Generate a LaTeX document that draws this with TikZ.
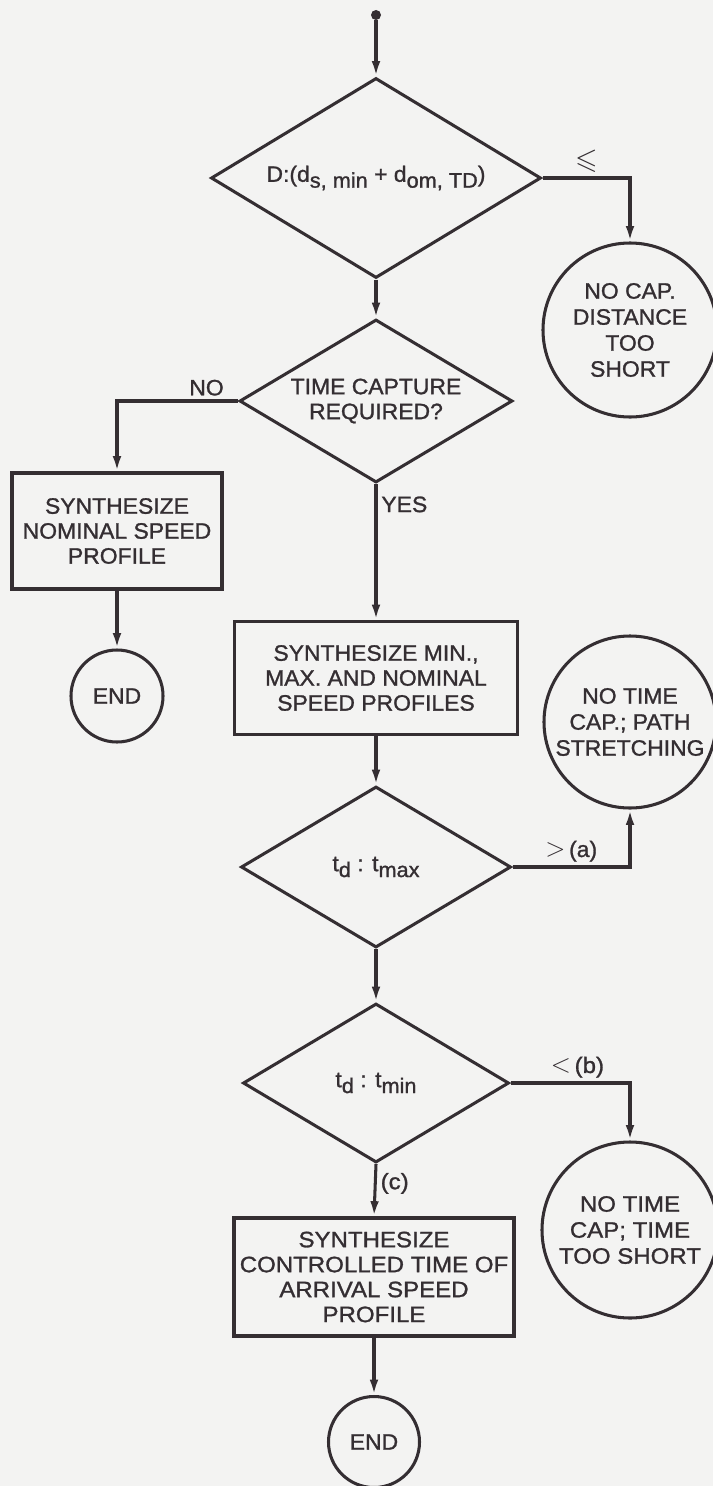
\documentclass[tikz,border=0pt]{standalone}
\usepackage{fontspec}
\usepackage{amssymb}
\setmainfont[FakeStretch=1.03, FakeBold=1.2]{Liberation Sans}
\newfontfamily\widefont[FakeStretch=1.08, FakeBold=1.2]{Liberation Sans}
\usetikzlibrary{shapes.geometric,arrows.meta}
\definecolor{ink}{RGB}{52,46,50}
\definecolor{paper}{RGB}{243,243,242}
\newcommand{\lowsub}[1]{\raisebox{-0.5ex}{\fontsize{18}{18}\selectfont#1}}
\tikzset{
  every node/.style={font=\fontsize{19}{21.3}\selectfont, text=ink},
  line/.style={draw=ink, line width=2.6pt},
  arrow/.style={line, -{Latex[length=4.6mm,width=2.6mm]}},
  decision/.style={diamond, aspect=1.65, draw=ink, line width=2.6pt, inner sep=0pt, align=center},
  process/.style={rectangle, draw=ink, line width=2.6pt, inner sep=0pt, align=center},
  terminal/.style={circle, draw=ink, line width=2.6pt, inner sep=0pt, align=center,
    font=\fontsize{19}{22.2}\selectfont},
}
\begin{document}
\begin{tikzpicture}[x=0.03cm, y=-0.03cm]
\fill[paper] (0,0) rectangle (713,1486);
\useasboundingbox (0,0) rectangle (713,1486);
\node[circle, fill=ink, inner sep=0pt, minimum size=0.3cm] (S) at (376,15) {};
\node[decision, minimum width=9.9cm, minimum height=6cm] (D_1) at (376,178) {D:(d\lowsub{s, min} + d\lowsub{om, TD})};
\node[terminal, minimum size=5.22cm] (C_1) at (630,330) {NO CAP.\\DISTANCE\\TOO\\SHORT};
\draw[arrow] (S) -- (D_1.north);
\draw[arrow] (D_1.east) -| (C_1.north) node[pos=0.25, above] (L_1) {\scalebox{1.3}{$\leqslant$}};
\node[decision, minimum width=8.19cm, minimum height=4.89cm] (D_2) at (376,401) {TIME CAPTURE\\REQUIRED?};
\draw[arrow] (D_1.south) -- (D_2.north);
\node[process, minimum width=6.3cm, minimum height=3.48cm] (B_1) at (117,531) {SYNTHESIZE\\NOMINAL SPEED\\PROFILE};
\draw[arrow] (D_2.west) -| (B_1.north) node[pos=0.13, above] (L_2) {NO};
\node[terminal, minimum size=2.76cm] (E_1) at (117,696) {END};
\draw[arrow] (B_1.south) -- (E_1.north);
\node[process, minimum width=8.49cm, minimum height=3.39cm] (B_2) at (376,678) {SYNTHESIZE MIN.,\\MAX. AND NOMINAL\\SPEED PROFILES};
\draw[arrow] (D_2.south) -- (B_2.north) node[pos=0.15, right] (L_3) {YES};
\node[terminal, minimum size=5.16cm] (C_2) at (630,722) {NO TIME\\CAP.; PATH\\STRETCHING};
\node[decision, minimum width=8.1cm, minimum height=4.83cm] (D_3) at (376,867) {t\lowsub{d} : t\lowsub{max}};
\draw[arrow] (B_2.south) -- (D_3.north);
\draw[arrow] (D_3.east) -| (C_2.south) node[pos=0.25, above] (L_4) {\scalebox{1.3}{$>$}\,(a)};
\node[decision, minimum width=7.98cm, minimum height=4.77cm] (D_4) at (376,1083) {t\lowsub{d} : t\lowsub{min}};
\draw[arrow] (D_3.south) -- (D_4.north);
\node[terminal, minimum size=5.28cm, font=\widefont\fontsize{19}{22.2}\selectfont] (C_3) at (630,1230) {NO TIME\\CAP; TIME\\TOO SHORT};
\draw[arrow] (D_4.east) -| (C_3.north) node[pos=0.28, above] (L_5) {\widefont\scalebox{1.3}{$<$}\,(b)};
\node[process, minimum width=8.4cm, minimum height=3.54cm, font=\widefont\fontsize{19}{21.3}\selectfont] (B_3) at (374,1277) {SYNTHESIZE\\CONTROLLED TIME OF\\ARRIVAL SPEED\\PROFILE};
\draw[arrow] (D_4.south) -- (B_3.north) node[pos=0.37, right] (L_6) {\widefont(c)};
\node[terminal, minimum size=2.73cm] (E_2) at (374,1442) {END};
\draw[arrow] (B_3.south) -- (E_2.north);
\end{tikzpicture}
\end{document}
